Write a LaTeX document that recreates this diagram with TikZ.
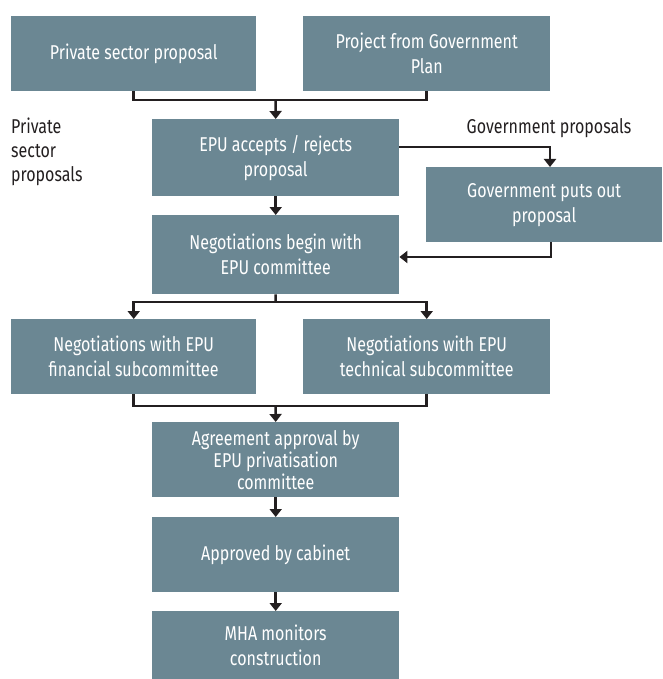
\documentclass[tikz,border=0pt]{standalone}
\usepackage{fontspec}
\setmainfont{Fira Sans}[FakeStretch=0.8]
\usetikzlibrary{arrows.meta}
\definecolor{boxcol}{HTML}{6B8793}
\definecolor{inkcol}{HTML}{231F20}
\tikzset{
  box/.style={fill=boxcol, draw=none, text=white, align=center, anchor=north west,
    inner sep=0pt, font=\fontsize{20}{25}\selectfont},
  lbl/.style={text=inkcol, inner sep=0pt, font=\fontsize{20}{24}\selectfont},
  conn/.style={draw=inkcol, line width=2.5pt},
  arr/.style={conn, -{Triangle[width=12pt,length=8pt]}}
}
\begin{document}
\begin{tikzpicture}[x=1pt,y=-1pt]
\useasboundingbox (0,0) rectangle (662,679);
\node[box, minimum width=245pt, minimum height=75pt] (ps) at (11,16) {Private sector proposal};
\node[box, minimum width=247pt, minimum height=75pt] (pg) at (303,16) {Project from Government\\Plan};
\node[box, minimum width=247pt, minimum height=77pt] (epu) at (152,119) {EPU accepts / rejects\\proposal};
\node[box, minimum width=236pt, minimum height=75pt] (gov) at (426,167) {Government puts out\\proposal};
\node[box, minimum width=247pt, minimum height=79pt] (neg) at (152,215) {Negotiations begin with\\EPU committee};
\node[box, minimum width=245pt, minimum height=75pt] (fin) at (11,319) {Negotiations with EPU\\financial subcommittee};
\node[box, minimum width=247pt, minimum height=75pt] (tech) at (303,319) {Negotiations with EPU\\technical subcommittee};
\node[box, minimum width=247pt, minimum height=75pt, font=\fontsize{20}{22}\selectfont] (agr) at (152,422) {Agreement approval by\\EPU privatisation\\committee};
\node[box, minimum width=247pt, minimum height=75pt] (cab) at (152,517) {Approved by cabinet};
\node[box, minimum width=247pt, minimum height=68pt] (mha) at (152,611) {MHA monitors\\construction};

\node[lbl] (govlbl) at (549,128) {Government proposals};
\node[lbl, align=left, anchor=north west] (pslbl) at (11,118) {Private\\sector\\proposals};

\coordinate (m1) at (275.5,100);
\coordinate (g1) at (550,147);
\coordinate (g2) at (551,257);
\coordinate (m2) at (275.5,302);
\coordinate (m3) at (275.5,406);

\draw[conn] (ps.south) |- (m1) -| (pg.south);
\draw[arr] (m1) -- (epu.north);
\draw[arr] (epu.east |- g1) -- (g1) -- (g1 |- gov.north);
\draw[arr] (g2 |- gov.south) -- (g2) -- (neg.east |- g2);
\draw[arr] (epu.south) -- (neg.north);
\draw[conn] (neg.south) -- (m2);
\draw[arr] (m2) -| (fin.north);
\draw[arr] (m2) -| (tech.north);
\draw[conn] (fin.south) |- (m3) -| (tech.south);
\draw[arr] (m3) -- (agr.north);
\draw[arr] (agr.south) -- (cab.north);
\draw[arr] (cab.south) -- (mha.north);
\end{tikzpicture}
\end{document}
